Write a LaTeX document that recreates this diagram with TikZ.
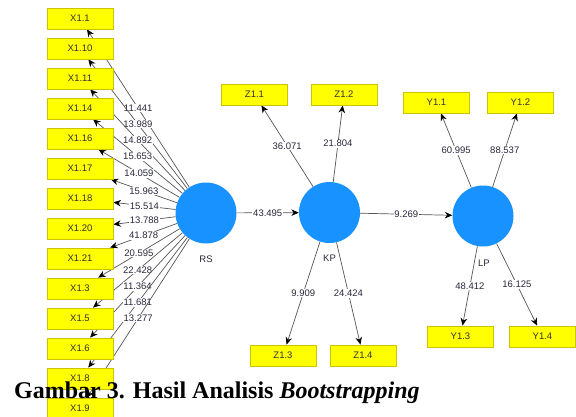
\documentclass[tikz,border=0pt]{standalone}
\usepackage{fontspec}
\setmainfont{Liberation Serif}
\newfontfamily\diagfont{Liberation Sans}
\usetikzlibrary{arrows.meta}
\pgfdeclarelayer{bg}
\pgfsetlayers{bg,main}
\definecolor{boxyellow}{RGB}{255,255,0}
\definecolor{boxedge}{RGB}{205,195,0}
\definecolor{lvblue}{RGB}{24,146,255}
\definecolor{linegray}{RGB}{85,85,85}
\definecolor{numcol}{RGB}{40,40,60}
\begin{document}
\begin{tikzpicture}[x=1pt,y=-1pt,
  ind/.style={draw=boxedge, fill=boxyellow, line width=0.8pt, minimum width=66pt,
    minimum height=21pt, inner sep=0pt, font=\diagfont\fontsize{9.5}{10}\selectfont, text=black!80},
  lv/.style={circle, fill=lvblue, minimum size=61pt, inner sep=0pt},
  lvname/.style={font=\diagfont\fontsize{9.5}{10}\selectfont, text=numcol},
  conn/.style={draw=linegray, line width=0.7pt, -{Stealth[length=7.5pt,width=6.5pt,color=black]}},
  val/.style={fill=white, inner sep=0.8pt, font=\diagfont\fontsize{9.5}{10}\selectfont, text=numcol}
]
\useasboundingbox (0,0) rectangle (576,416);
% indicator boxes on the left
\foreach \n [count=\k from 0] in {1.1,1.10,1.11,1.14,1.16,1.17,1.18,1.20,1.21,1.3,1.5,1.6,1.8,1.9}
  \node[ind] (X\k) at (80,18.5+30*\k) {X\n};
% latent variables
\node[lv] (RS) at (206,213) {};
\node[lv] (KP) at (329.5,212.5) {};
\node[lv] (LP) at (483,216) {};
\node[lvname] (RSl) at (206,259) {RS};
\node[lvname] (KPl) at (329.5,258) {KP};
\node[lvname] (LPl) at (484,263) {LP};
% Z and Y indicators
\node[ind] (Z1) at (254.5,94.5) {Z1.1};
\node[ind] (Z2) at (344,94.5) {Z1.2};
\node[ind] (Z3) at (283,355.5) {Z1.3};
\node[ind] (Z4) at (363,355.5) {Z1.4};
\node[ind] (Y1) at (436.5,102.5) {Y1.1};
\node[ind] (Y2) at (520.5,102.5) {Y1.2};
\node[ind] (Y3) at (460.5,336.5) {Y1.3};
\node[ind] (Y4) at (542.5,336.5) {Y1.4};
% connectors
\begin{pgfonlayer}{bg}
\foreach \k/\v in {0/11.441,1/13.989,2/14.892,3/15.653,4/14.059,5/15.963,6/15.514,
    7/13.788,8/41.878,9/20.595,10/22.428,11/11.364,12/11.681,13/13.277}
  \draw[conn] (RS) -- node[val] {\v} (X\k);
\draw[conn] (RS) -- node[val] {43.495} (KP);
\draw[conn] (KP) -- node[val] {9.269} (LP);
\draw[conn] (KP) -- node[val] {36.071} (Z1);
\draw[conn] (KP) -- node[val] {21.804} (Z2);
\draw[conn] (KP) -- node[val] {9.909} (Z3);
\draw[conn] (KP) -- node[val] {24.424} (Z4);
\draw[conn] (LP) -- node[val] {60.995} (Y1);
\draw[conn] (LP) -- node[val] {88.537} (Y2);
\draw[conn] (LP) -- node[val] {48.412} (Y3);
\draw[conn] (LP) -- node[val] {16.125} (Y4);
\end{pgfonlayer}
% caption
\node[anchor=base west, inner sep=0pt, font=\bfseries\fontsize{24}{28}\selectfont] (cap)
  at (14,398) {Gambar 3. Hasil Analisis \textit{Bootstrapping}};
\end{tikzpicture}
\end{document}
